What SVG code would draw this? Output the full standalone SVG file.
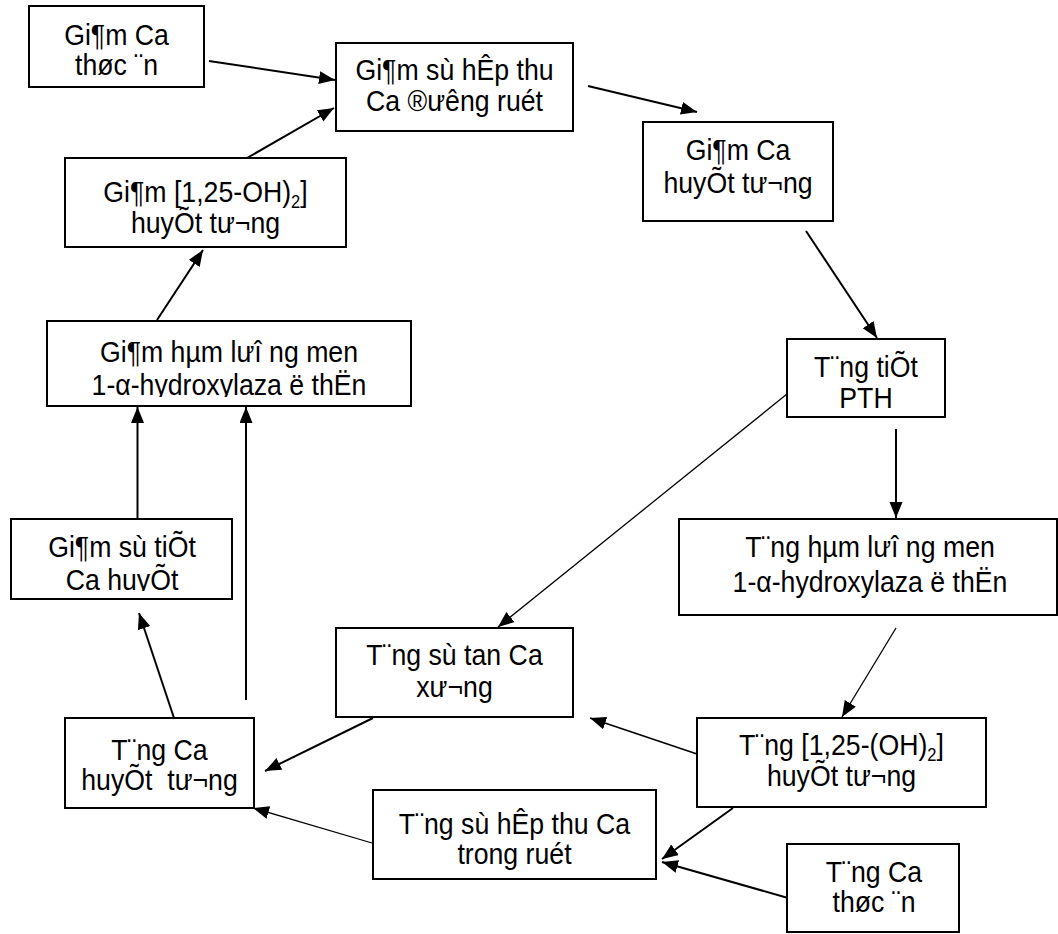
<svg xmlns="http://www.w3.org/2000/svg" width="1058" height="934" viewBox="0 0 1058 934">
<style>
.box{fill:#fff;stroke:#000;stroke-width:2}
.t{font-family:"Liberation Sans",Arial,sans-serif;font-size:29px;fill:#000;text-anchor:middle}
.sub{font-size:18px}
.c{fill:none;stroke:#000;stroke-width:2}
.thin{stroke-width:1.3}
.mid{stroke-width:1.6}
</style>
<defs>
<marker id="ah" markerUnits="userSpaceOnUse" markerWidth="18" markerHeight="14" refX="16" refY="6.5" orient="auto">
<path d="M0,0 L16,6.5 L0,13 z" fill="#000"/>
</marker>
<clipPath id="clip5"><rect x="47" y="321" width="364" height="76"/></clipPath>
<clipPath id="clip8"><rect x="11" y="519" width="221" height="72"/></clipPath>
</defs>
<rect width="1058" height="934" fill="#fff"/>
<g id="connectors">
<line class="c" x1="209" y1="61" x2="335" y2="80" marker-end="url(#ah)"/>
<line class="c" x1="247" y1="158" x2="334" y2="108" marker-end="url(#ah)"/>
<line class="c" x1="588" y1="86" x2="697" y2="112" marker-end="url(#ah)"/>
<line class="c" x1="806" y1="231" x2="877" y2="338" marker-end="url(#ah)"/>
<line class="c thin" x1="787" y1="394" x2="498" y2="627" marker-end="url(#ah)"/>
<line class="c" x1="896" y1="429" x2="896" y2="518" marker-end="url(#ah)"/>
<line class="c thin" x1="896" y1="628" x2="842" y2="717" marker-end="url(#ah)"/>
<line class="c mid" x1="697" y1="754" x2="590" y2="718" marker-end="url(#ah)"/>
<line class="c" x1="733" y1="808" x2="662" y2="859" marker-end="url(#ah)"/>
<line class="c" x1="788" y1="898" x2="662" y2="862" marker-end="url(#ah)"/>
<line class="c" x1="373" y1="718" x2="265" y2="771" marker-end="url(#ah)"/>
<line class="c" x1="174" y1="718" x2="139" y2="613" marker-end="url(#ah)"/>
<line class="c" x1="137.5" y1="519" x2="137.5" y2="407" marker-end="url(#ah)"/>
<line class="c" x1="246" y1="700" x2="246" y2="407" marker-end="url(#ah)"/>
<line class="c" x1="157" y1="320" x2="203" y2="250" marker-end="url(#ah)"/>
<line class="c thin" x1="372" y1="843" x2="253" y2="808" marker-end="url(#ah)"/>
</g>
<g id="n1"><rect class="box" x="29" y="6" width="175" height="81"/>
<text class="t" transform="matrix(0.92 0 0 1 116.5 0)" y="45">Gi¶m Ca</text><text class="t" transform="matrix(0.92 0 0 1 116.5 0)" y="75">thøc ¨n</text></g>
<g id="n2"><rect class="box" x="336" y="43" width="237" height="88"/>
<text class="t" transform="matrix(0.92 0 0 1 454.5 0)" y="80">Gi¶m sù hÊp thu</text><text class="t" transform="matrix(0.92 0 0 1 454.5 0)" y="111">Ca ®ưêng ruét</text></g>
<g id="n3"><rect class="box" x="643" y="122" width="190" height="99"/>
<text class="t" transform="matrix(0.92 0 0 1 738 0)" y="160">Gi¶m Ca</text><text class="t" transform="matrix(0.92 0 0 1 738 0)" y="193">huyÕt tư¬ng</text></g>
<g id="n4"><rect class="box" x="65" y="158" width="281" height="89"/>
<text class="t" transform="matrix(0.92 0 0 1 205.5 0)" y="202">Gi¶m [1,25-OH)<tspan class="sub" dy="6">2</tspan><tspan dy="-6">]</tspan></text><text class="t" transform="matrix(0.92 0 0 1 205.5 0)" y="233">huyÕt tư¬ng</text></g>
<g id="n5"><rect class="box" x="47" y="321" width="364" height="85"/>
<text class="t" transform="matrix(0.92 0 0 1 229 0)" y="362">Gi¶m hµm lưî ng men</text><g clip-path="url(#clip5)"><text class="t" transform="matrix(0.92 0 0 1 229 0)" y="395">1-α-hydroxylaza ë thËn</text></g></g>
<g id="n6"><rect class="box" x="787" y="339" width="158" height="78"/>
<text class="t" transform="matrix(0.92 0 0 1 866 0)" y="377">T¨ng tiÕt</text><text class="t" transform="matrix(0.92 0 0 1 866 0)" y="408">PTH</text></g>
<g id="n7"><rect class="box" x="679" y="519" width="378" height="96"/>
<text class="t" transform="matrix(0.92 0 0 1 870 0)" y="557">T¨ng hµm lưî ng men</text><text class="t" transform="matrix(0.92 0 0 1 870 0)" y="592">1-α-hydroxylaza ë thËn</text></g>
<g id="n8"><rect class="box" x="11" y="519" width="221" height="80"/>
<text class="t" transform="matrix(0.92 0 0 1 122 0)" y="557">Gi¶m sù tiÕt</text><g clip-path="url(#clip8)"><text class="t" transform="matrix(0.92 0 0 1 122 0)" y="590">Ca huyÕt</text></g></g>
<g id="n9"><rect class="box" x="336" y="628" width="237" height="89"/>
<text class="t" transform="matrix(0.92 0 0 1 454.5 0)" y="665">T¨ng sù tan Ca</text><text class="t" transform="matrix(0.92 0 0 1 454.5 0)" y="697">xư¬ng</text></g>
<g id="n10"><rect class="box" x="65" y="718" width="189" height="90"/>
<text class="t" transform="matrix(0.92 0 0 1 159.5 0)" y="760">T¨ng Ca</text><text class="t" transform="matrix(0.92 0 0 1 159.5 0)" y="790" xml:space="preserve">huyÕt  tư¬ng</text></g>
<g id="n11"><rect class="box" x="697" y="718" width="289" height="89"/>
<text class="t" transform="matrix(0.92 0 0 1 841.5 0)" y="755">T¨ng [1,25-(OH)<tspan class="sub" dy="6">2</tspan><tspan dy="-6">]</tspan></text><text class="t" transform="matrix(0.92 0 0 1 841.5 0)" y="786">huyÕt tư¬ng</text></g>
<g id="n12"><rect class="box" x="373" y="790" width="283" height="89"/>
<text class="t" transform="matrix(0.92 0 0 1 514.5 0)" y="834">T¨ng sù hÊp thu Ca</text><text class="t" transform="matrix(0.92 0 0 1 514.5 0)" y="864">trong ruét</text></g>
<g id="n13"><rect class="box" x="787" y="844" width="172" height="88"/>
<text class="t" transform="matrix(0.92 0 0 1 874 0)" y="882">T¨ng Ca</text><text class="t" transform="matrix(0.92 0 0 1 874 0)" y="912">thøc ¨n</text></g>
</svg>
